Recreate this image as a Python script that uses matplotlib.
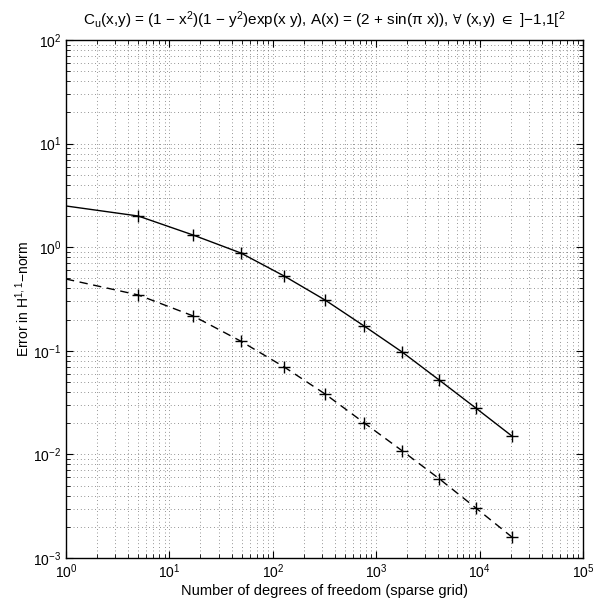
import numpy as np
import matplotlib
matplotlib.use("Agg")
import matplotlib.pyplot as plt

plt.rcParams['font.family'] = ['Liberation Sans', 'DejaVu Sans']
plt.rcParams['mathtext.default'] = 'regular'
plt.rcParams['font.size'] = 10

# degrees of freedom of the sparse grid
dof = [1, 5, 17, 49, 129, 321, 769, 1793, 4097, 9217, 20481]
# error, solid curve
err_solid = [2.50, 2.00, 1.31, 0.88, 0.527, 0.309, 0.173, 0.097, 0.052, 0.028, 0.0151]
# error, dashed curve
err_dashed = [0.493, 0.346, 0.217, 0.124, 0.0698, 0.0383, 0.0201, 0.0108, 0.0058, 0.00304, 0.00160]

fig = plt.figure(figsize=(5.96, 6.06), dpi=100)
ax = fig.add_axes([0.1107, 0.0792, 0.8673, 0.8548])

# first point sits on the axis edge, no marker there
ax.plot(dof, err_solid, 'k-', lw=1.0)
ax.plot(dof[1:], err_solid[1:], 'k+', ms=8, mew=1.0)
ax.plot(dof, err_dashed, 'k--', lw=1.0, dashes=(6, 4))
ax.plot(dof[1:], err_dashed[1:], 'k+', ms=8, mew=1.0)

ax.set_xscale('log')
ax.set_yscale('log')
ax.set_xlim(1, 1e5)
ax.set_ylim(1e-3, 1e2)

ax.grid(True, which='both', linestyle=(0, (0.7, 3.0)), color='#444444', lw=0.7, alpha=0.8)
ax.set_axisbelow(True)
ax.tick_params(which='both', direction='in', top=True, right=True, labelsize=10)
ax.tick_params(which='major', length=5, width=0.8)
ax.tick_params(which='minor', length=3, width=0.6)
for s in ax.spines.values():
    s.set_linewidth(1.0)

ax.set_title(u'C$_{u}$(x,y) = (1 \u2212 x$^{2}$)(1 \u2212 y$^{2}$)exp(x y), A(x) = (2 + sin(\u03c0 x)), '
             u'$\\forall$ (x,y) $\\in$ ]\u22121,1[$^{2}$', fontsize=11, pad=11)
ax.set_xlabel('Number of degrees of freedom (sparse grid)', fontsize=10.5, labelpad=2)
ax.set_ylabel(u'Error in H$^{1,1}$\u2212norm', fontsize=10, labelpad=1)

fig.savefig('out.png', dpi=100)
